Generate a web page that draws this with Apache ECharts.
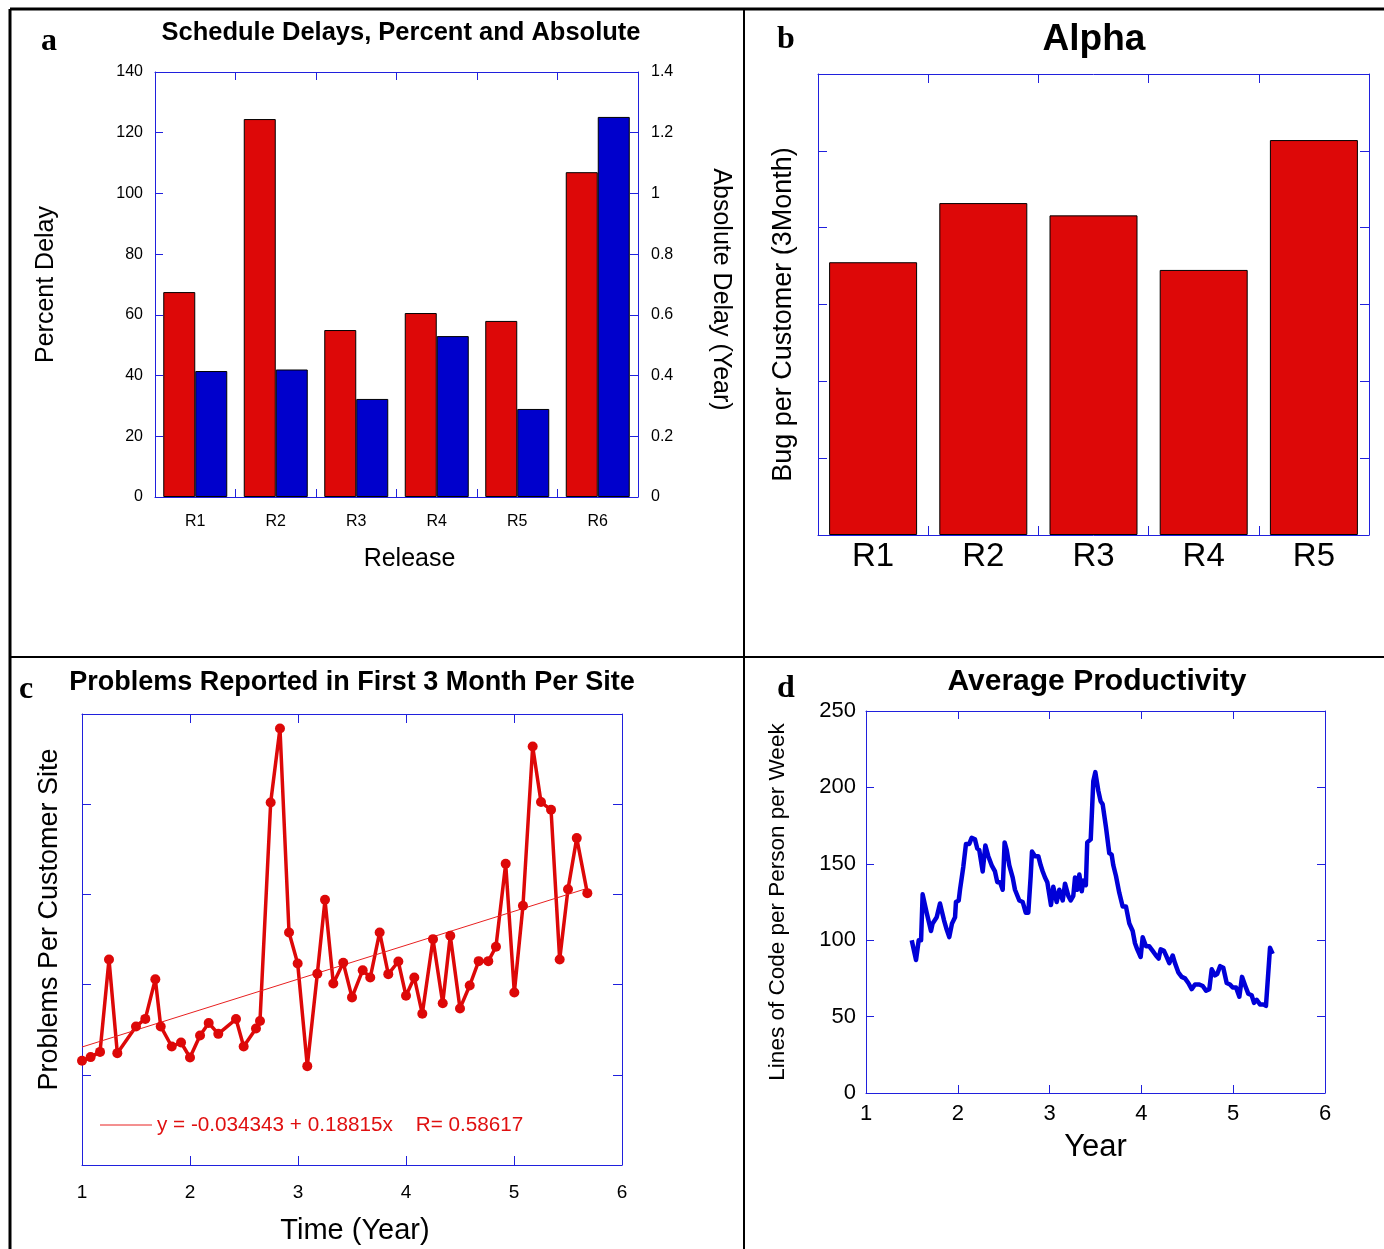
<!DOCTYPE html>
<html>
<head>
<meta charset="utf-8">
<script src="https://cdn.jsdelivr.net/npm/echarts@6/dist/echarts.min.js"></script>
<style>
html,body{margin:0;padding:0;background:#fff;}
#chart{width:1384px;height:1249px;}
</style>
</head>
<body>
<div id="chart"></div>
<script>
// ---------- Panel a: Schedule delays ----------
var releasesA = ['R1','R2','R3','R4','R5','R6'];
var percentDelay = [67.5, 124.5, 55, 60.6, 58, 107];
var absoluteDelay = [0.415, 0.42, 0.323, 0.53, 0.29, 1.252];

// ---------- Panel b: Alpha ----------
var releasesB = ['R1','R2','R3','R4','R5'];
var bugPerCustomer = [3.55, 4.32, 4.16, 3.45, 5.14];

// ---------- Panel c: Problems per site ----------
var probX = [1.00,1.08,1.167,1.25,1.327,1.50,1.586,1.679,1.729,1.831,1.917,2.00,2.093,2.173,2.262,2.426,2.497,2.611,2.648,2.747,2.833,2.917,2.997,3.086,3.179,3.25,3.327,3.419,3.50,3.599,3.669,3.756,3.836,3.929,4.00,4.077,4.151,4.25,4.34,4.41,4.50,4.59,4.673,4.762,4.833,4.923,5.003,5.083,5.173,5.25,5.343,5.423,5.50,5.581,5.679];
var probY = [0.078,0.098,0.127,0.639,0.120,0.268,0.310,0.530,0.268,0.157,0.179,0.096,0.218,0.287,0.227,0.309,0.157,0.257,0.298,1.509,1.920,0.789,0.617,0.048,0.560,0.970,0.506,0.621,0.429,0.580,0.539,0.789,0.558,0.628,0.438,0.539,0.338,0.752,0.397,0.771,0.368,0.495,0.630,0.630,0.710,1.170,0.456,0.937,1.820,1.512,1.469,0.639,1.029,1.312,1.007];
var fitX = [1.0, 5.68];
var fitY = [0.154, 1.034];
var fitLabel = 'y = -0.034343 + 0.18815x    R= 0.58617';

// ---------- Panel d: Average productivity ----------
var prodX = [1.498,1.545,1.574,1.6,1.617,1.661,1.708,1.726,1.77,1.806,1.85,1.879,1.907,1.937,1.97,1.98,2.01,2.024,2.06,2.089,2.125,2.151,2.187,2.212,2.234,2.271,2.30,2.332,2.369,2.405,2.43,2.46,2.489,2.51,2.533,2.561,2.598,2.623,2.67,2.707,2.74,2.768,2.794,2.808,2.841,2.877,2.903,2.925,2.95,2.975,3.015,3.04,3.077,3.106,3.143,3.168,3.204,3.23,3.258,3.277,3.302,3.324,3.35,3.367,3.395,3.41,3.448,3.476,3.498,3.53,3.556,3.578,3.614,3.65,3.676,3.694,3.723,3.759,3.796,3.832,3.868,3.905,3.93,3.955,3.992,4.014,4.05,4.086,4.123,4.159,4.188,4.21,4.246,4.276,4.304,4.341,4.366,4.402,4.439,4.475,4.511,4.548,4.584,4.631,4.668,4.704,4.74,4.766,4.802,4.827,4.857,4.892,4.929,4.965,4.995,5.031,5.067,5.096,5.132,5.164,5.201,5.227,5.256,5.292,5.328,5.357,5.401,5.43];
var prodY = [100,87,100,100,130,118,106,111,115,124,113,107,102,111,115,125,126,133,148,163,163,167,166,160,159,145,162,155,149,145,138,138,133,164,159,149,141,133,126,125,118,118,142,158,155,155,149,145,141,138,123,135,125,133,126,137,129,126,129,141,133,143,132,139,136,164,166,204,210,198,191,189,174,157,156,149,142,131,122,122,111,106,98,94,89,102,96,96,93,90,88,94,93,89,85,90,85,79,76,75,72,68,71,71,70,67,68,81,77,78,83,82,72,71,69,69,63,76,70,65,64,59,61,58,58,57,95,91];

function zip(a, b) { return a.map(function (v, i) { return [v, b[i]]; }); }

var FONT = '"Liberation Sans", Arial, sans-serif';
var SERIF = '"Liberation Serif", "Times New Roman", serif';
var AX = '#2020dd';
var RED = '#dd0808';
var BLUE = '#0000cc';

function lineStyle() { return { show: true, onZero: false, lineStyle: { color: AX, width: 1 } }; }
function tickIn(len) { return { show: true, inside: true, length: len || 8, lineStyle: { color: AX, width: 1 } }; }

var chart = echarts.init(document.getElementById('chart'), null, { renderer: 'canvas' });

var option = {
  backgroundColor: '#ffffff',
  animation: false,
  textStyle: { fontFamily: FONT },
  grid: [
    { left: 155, top: 72, width: 483, height: 425 },
    { left: 818, top: 74, width: 551, height: 461 },
    { left: 82, top: 714, width: 540, height: 451 },
    { left: 866, top: 711, width: 459, height: 382 }
  ],
  xAxis: [
    { gridIndex: 0, type: 'category', data: releasesA, position: 'bottom',
      axisLine: lineStyle(), axisTick: tickIn(8),
      axisLabel: { fontSize: 16, color: '#000', margin: 17, fontFamily: FONT },
      name: 'Release', nameLocation: 'middle', nameGap: 50,
      nameTextStyle: { fontSize: 25, color: '#000', fontFamily: FONT, padding: [0, 0, 0, 26] } },
    { gridIndex: 0, type: 'category', data: releasesA, position: 'top',
      axisLine: lineStyle(), axisTick: tickIn(8), axisLabel: { show: false } },
    { gridIndex: 1, type: 'category', data: releasesB, position: 'bottom',
      axisLine: lineStyle(), axisTick: tickIn(9),
      axisLabel: { fontSize: 33, color: '#000', margin: 5, fontFamily: FONT } },
    { gridIndex: 1, type: 'category', data: releasesB, position: 'top',
      axisLine: lineStyle(), axisTick: tickIn(9), axisLabel: { show: false } },
    { gridIndex: 2, type: 'value', min: 1, max: 6, interval: 1, position: 'bottom',
      axisLine: lineStyle(), axisTick: tickIn(9), splitLine: { show: false },
      axisLabel: { fontSize: 19, color: '#000', margin: 18, fontFamily: FONT },
      name: 'Time (Year)', nameLocation: 'middle', nameGap: 51,
      nameTextStyle: { fontSize: 29, color: '#000', fontFamily: FONT, padding: [0, 0, 0, 6] } },
    { gridIndex: 2, type: 'value', min: 1, max: 6, interval: 1, position: 'top',
      axisLine: lineStyle(), axisTick: tickIn(9), splitLine: { show: false }, axisLabel: { show: false } },
    { gridIndex: 3, type: 'value', min: 1, max: 6, interval: 1, position: 'bottom',
      axisLine: lineStyle(), axisTick: tickIn(8), splitLine: { show: false },
      axisLabel: { fontSize: 22, color: '#000', margin: 10, fontFamily: FONT },
      name: 'Year', nameLocation: 'middle', nameGap: 39,
      nameTextStyle: { fontSize: 31, color: '#000', fontFamily: FONT } },
    { gridIndex: 3, type: 'value', min: 1, max: 6, interval: 1, position: 'top',
      axisLine: lineStyle(), axisTick: tickIn(8), splitLine: { show: false }, axisLabel: { show: false } }
  ],
  yAxis: [
    { gridIndex: 0, type: 'value', min: 0, max: 140, interval: 20, position: 'left',
      axisLine: lineStyle(), axisTick: tickIn(8), splitLine: { show: false },
      axisLabel: { fontSize: 16, color: '#000', margin: 12, fontFamily: FONT },
      name: 'Percent Delay', nameLocation: 'middle', nameGap: 96,
      nameTextStyle: { fontSize: 25, color: '#000', fontFamily: FONT } },
    { gridIndex: 0, type: 'value', min: 0, max: 1.4, interval: 0.2, position: 'right',
      axisLine: lineStyle(), axisTick: tickIn(8), splitLine: { show: false },
      axisLabel: { fontSize: 16, color: '#000', margin: 13, fontFamily: FONT },
      name: 'Absolute Delay (Year)', nameLocation: 'middle', nameGap: 70, nameRotate: -90,
      nameTextStyle: { fontSize: 25, color: '#000', fontFamily: FONT, padding: [0, 0, 0, 10] } },
    { gridIndex: 1, type: 'value', min: 0, max: 6, interval: 1, position: 'left',
      axisLine: lineStyle(), axisTick: tickIn(9), splitLine: { show: false },
      axisLabel: { show: false },
      name: 'Bug per Customer (3Month)', nameLocation: 'middle', nameGap: 21,
      nameTextStyle: { fontSize: 27, color: '#000', fontFamily: FONT, padding: [0, 20, 0, 0] } },
    { gridIndex: 1, type: 'value', min: 0, max: 6, interval: 1, position: 'right',
      axisLine: lineStyle(), axisTick: tickIn(9), splitLine: { show: false }, axisLabel: { show: false } },
    { gridIndex: 2, type: 'value', min: -0.5, max: 2, interval: 0.5, position: 'left',
      axisLine: lineStyle(), axisTick: tickIn(9), splitLine: { show: false },
      axisLabel: { show: false },
      name: 'Problems Per Customer Site', nameLocation: 'middle', nameGap: 19,
      nameTextStyle: { fontSize: 27, color: '#000', fontFamily: FONT, padding: [0, 0, 0, 40] } },
    { gridIndex: 2, type: 'value', min: -0.5, max: 2, interval: 0.5, position: 'right',
      axisLine: lineStyle(), axisTick: tickIn(9), splitLine: { show: false }, axisLabel: { show: false } },
    { gridIndex: 3, type: 'value', min: 0, max: 250, interval: 50, position: 'left',
      axisLine: lineStyle(), axisTick: tickIn(8), splitLine: { show: false },
      axisLabel: { fontSize: 22, color: '#000', margin: 10, fontFamily: FONT },
      name: 'Lines of Code per Person per Week', nameLocation: 'middle', nameGap: 77,
      nameTextStyle: { fontSize: 22.5, color: '#000', fontFamily: FONT } },
    { gridIndex: 3, type: 'value', min: 0, max: 250, interval: 50, position: 'right',
      axisLine: lineStyle(), axisTick: tickIn(8), splitLine: { show: false }, axisLabel: { show: false } }
  ],
  series: [
    { type: 'bar', name: 'Percent Delay', xAxisIndex: 0, yAxisIndex: 0, data: percentDelay,
      barWidth: 32, barGap: '0%',
      itemStyle: { color: RED, borderColor: '#000', borderWidth: 1 } },
    { type: 'bar', name: 'Absolute Delay', xAxisIndex: 0, yAxisIndex: 1, data: absoluteDelay,
      barWidth: 32, barGap: '0%',
      itemStyle: { color: BLUE, borderColor: '#000', borderWidth: 1 } },
    { type: 'bar', name: 'Bug per Customer', xAxisIndex: 2, yAxisIndex: 2, data: bugPerCustomer,
      barWidth: 88,
      itemStyle: { color: RED, borderColor: '#000', borderWidth: 1 } },
    { type: 'line', name: 'Problems', xAxisIndex: 4, yAxisIndex: 4, data: zip(probX, probY),
      symbol: 'circle', symbolSize: 10, showSymbol: true,
      lineStyle: { color: RED, width: 3.5 }, itemStyle: { color: RED } },
    { type: 'line', name: 'Fit', xAxisIndex: 4, yAxisIndex: 4, data: zip(fitX, fitY),
      symbol: 'none', lineStyle: { color: '#e82020', width: 1 } },
    { type: 'line', name: 'Productivity', xAxisIndex: 6, yAxisIndex: 6, data: zip(prodX, prodY),
      symbol: 'none', lineStyle: { color: '#0000d8', width: 4.5, join: 'round' } }
  ],
  graphic: [
    { type: 'line', shape: { x1: 10, y1: 9, x2: 1384, y2: 9 }, style: { stroke: '#000', lineWidth: 3 } },
    { type: 'line', shape: { x1: 10, y1: 9, x2: 10, y2: 1249 }, style: { stroke: '#000', lineWidth: 3 } },
    { type: 'line', shape: { x1: 744, y1: 9, x2: 744, y2: 1249 }, style: { stroke: '#000', lineWidth: 2 } },
    { type: 'line', shape: { x1: 10, y1: 657, x2: 1384, y2: 657 }, style: { stroke: '#000', lineWidth: 2 } },
    { type: 'text', x: 49, y: 42, style: { text: 'a', font: 'bold 32px ' + SERIF, fill: '#000', textAlign: 'center', textVerticalAlign: 'middle' } },
    { type: 'text', x: 786, y: 40, style: { text: 'b', font: 'bold 32px ' + SERIF, fill: '#000', textAlign: 'center', textVerticalAlign: 'middle' } },
    { type: 'text', x: 26, y: 690, style: { text: 'c', font: 'bold 32px ' + SERIF, fill: '#000', textAlign: 'center', textVerticalAlign: 'middle' } },
    { type: 'text', x: 786, y: 689, style: { text: 'd', font: 'bold 32px ' + SERIF, fill: '#000', textAlign: 'center', textVerticalAlign: 'middle' } },
    { type: 'text', x: 401, y: 33, style: { text: 'Schedule Delays, Percent and Absolute', font: 'bold 25.5px ' + FONT, fill: '#000', textAlign: 'center', textVerticalAlign: 'middle' } },
    { type: 'text', x: 1094, y: 40, style: { text: 'Alpha', font: 'bold 37px ' + FONT, fill: '#000', textAlign: 'center', textVerticalAlign: 'middle' } },
    { type: 'text', x: 352, y: 683, style: { text: 'Problems Reported in First 3 Month Per Site', font: 'bold 27px ' + FONT, fill: '#000', textAlign: 'center', textVerticalAlign: 'middle' } },
    { type: 'text', x: 1097, y: 682, style: { text: 'Average Productivity', font: 'bold 30px ' + FONT, fill: '#000', textAlign: 'center', textVerticalAlign: 'middle' } },
    { type: 'line', shape: { x1: 100, y1: 1125, x2: 152, y2: 1125 }, style: { stroke: '#e82020', lineWidth: 1 } },
    { type: 'text', x: 157, y: 1125, style: { text: fitLabel, font: '20.7px ' + FONT, fill: '#e01010', textAlign: 'left', textVerticalAlign: 'middle' } }
  ]
};
chart.setOption(option);
</script>
</body>
</html>
